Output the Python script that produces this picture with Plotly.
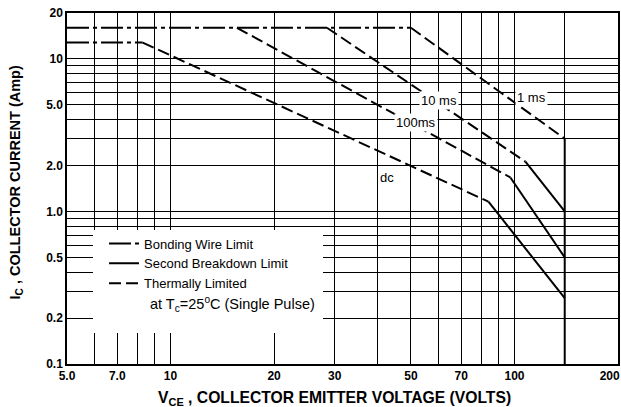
import math
import plotly.graph_objects as go

# ---------------- data ----------------
x_tick_vals = [5, 7, 10, 20, 30, 50, 70, 100, 200]
x_tick_text = ["5.0", "7.0", "10", "20", "30", "50", "70", "100", "200"]
x_minor_grid = [6, 8, 9, 40, 60, 80, 90, 140]

y_tick_vals = [0.1, 0.2, 0.5, 1, 2, 5, 10, 20]
y_tick_text = ["0.1", "0.2", "0.5", "1.0", "2.0", "5.0", "10", "20"]
y_minor_grid = [0.3, 0.4, 0.6, 0.7, 0.8, 0.9, 3, 4, 6, 7, 8, 9]

# 1 ms
ms1_bond_v = [5.0, 50.0]
ms1_bond_i = [16.0, 16.0]
ms1_therm_v = [50.0, 140.0]
ms1_therm_i = [16.0, 3.0]
# 10 ms
ms10_therm_v = [28.5, 107.6]
ms10_therm_i = [16.0, 2.12]
ms10_sb_v = [107.6, 140.0]
ms10_sb_i = [2.12, 1.0]
# 100 ms
ms100_therm_v = [15.6, 97.3]
ms100_therm_i = [16.0, 1.67]
ms100_sb_v = [97.3, 140.0]
ms100_sb_i = [1.67, 0.5]
# dc
dc_bond_v = [5.0, 8.3]
dc_bond_i = [12.8, 12.8]
dc_therm_v = [8.3, 84.0]
dc_therm_i = [12.8, 1.16]
dc_sb_v = [84.0, 140.0]
dc_sb_i = [1.16, 0.27]
# VCEO limit
vceo_v = [140.0, 140.0]
vceo_i = [3.0, 0.1]

curve_labels = ["1 ms", "10 ms", "100ms", "dc"]
curve_label_v = [112, 60.3, 51.6, 42.6]
curve_label_i = [5.56, 5.31, 3.82, 1.67]

# ---------------- styles ----------------
FONT = "Arial, Liberation Sans, sans-serif"
BOND_DASH = "22px,4px,4px,4px"
THERM_DASH = "12px,5px"
LW = 2

fig = go.Figure()

def add(v, i, dash, name, show, rank):
    fig.add_trace(go.Scatter(
        x=v, y=i, mode="lines", name=name, legendgroup=name,
        showlegend=show, legendrank=rank,
        line=dict(color="black", width=LW, dash=dash),
        hoverinfo="skip"))

add(ms1_bond_v, ms1_bond_i, BOND_DASH, "Bonding Wire Limit", True, 1)
add(dc_bond_v, dc_bond_i, BOND_DASH, "Bonding Wire Limit", False, 1)
add(ms10_sb_v, ms10_sb_i, "solid", "Second Breakdown Limit", True, 2)
add(ms100_sb_v, ms100_sb_i, "solid", "Second Breakdown Limit", False, 2)
add(dc_sb_v, dc_sb_i, "solid", "Second Breakdown Limit", False, 2)
add(vceo_v, vceo_i, "solid", "Second Breakdown Limit", False, 2)
add(ms1_therm_v, ms1_therm_i, THERM_DASH, "Thermally Limited", True, 3)
add(ms10_therm_v, ms10_therm_i, THERM_DASH, "Thermally Limited", False, 3)
add(ms100_therm_v, ms100_therm_i, THERM_DASH, "Thermally Limited", False, 3)
add(dc_therm_v, dc_therm_i, THERM_DASH, "Thermally Limited", False, 3)

for t, v, i in zip(curve_labels, curve_label_v, curve_label_i):
    fig.add_annotation(x=math.log10(v), y=math.log10(i), xref="x", yref="y",
                       text=t, showarrow=False, bgcolor="white", borderpad=1,
                       font=dict(family=FONT, size=13, color="black"))

# white legend panel covering the grid
fig.add_shape(type="rect", xref="paper", yref="paper",
              x0=0.0472, x1=0.4646, y0=0.0883, y1=0.3818,
              fillcolor="white", line=dict(width=0), layer="above")

fig.add_annotation(xref="paper", yref="paper", x=0.147, y=0.171,
                   xanchor="left", yanchor="middle", showarrow=False,
                   text="at T<sub>c</sub>=25<sup>o</sup>C (Single Pulse)",
                   font=dict(family=FONT, size=14.5, color="black"))

# axis titles
fig.add_annotation(xref="paper", yref="paper", x=0.4846, y=-0.097,
                   xanchor="center", yanchor="middle", showarrow=False,
                   text="V<sub>CE</sub> , COLLECTOR EMITTER VOLTAGE (VOLTS)",
                   font=dict(family=FONT, size=15.7, color="black", weight="bold"))
fig.add_annotation(xref="paper", yref="paper", x=-0.0934, y=0.516,
                   xanchor="center", yanchor="middle", showarrow=False,
                   textangle=-90,
                   text="I<sub>C</sub> , COLLECTOR CURRENT (Amp)",
                   font=dict(family=FONT, size=14.5, color="black", weight="bold"))

# the last x label sits at the right edge: pad it so it stays inside the page
x_tick_text_drawn = x_tick_text[:-1] + [x_tick_text[-1] + "&nbsp;" * 5]

axis_common = dict(showline=True, linecolor="black", linewidth=1.5, mirror=True,
                   showgrid=True, gridcolor="black", gridwidth=1,
                   ticks="", zeroline=False, ticklabeloverflow="allow",
                   tickfont=dict(family=FONT, size=12, color="black", weight="bold"))

fig.update_xaxes(type="log", range=[math.log10(5), math.log10(200)],
                 tickmode="array", tickvals=x_tick_vals, ticktext=x_tick_text_drawn,
                 minor=dict(tickmode="array", tickvals=x_minor_grid, showgrid=True,
                            gridcolor="black", gridwidth=1, ticks=""),
                 **axis_common)
fig.update_yaxes(type="log", range=[-1, math.log10(20)],
                 tickmode="array", tickvals=y_tick_vals, ticktext=y_tick_text,
                 minor=dict(tickmode="array", tickvals=y_minor_grid, showgrid=True,
                            gridcolor="black", gridwidth=1, ticks=""),
                 **axis_common)

fig.update_layout(
    width=621, height=407,
    margin=dict(l=67, r=3, t=13, b=43, autoexpand=False),
    paper_bgcolor="white", plot_bgcolor="white",
    font=dict(family=FONT, color="black"),
    legend=dict(x=0.0672, y=0.386, xanchor="left", yanchor="top",
                bgcolor="rgba(0,0,0,0)", borderwidth=0, tracegroupgap=0,
                font=dict(family=FONT, size=13, color="black")),
)

fig.write_html("out.html",
               config={"displayModeBar": False},
               post_script="document.body.style.margin='0px';document.body.style.overflow='hidden';")
